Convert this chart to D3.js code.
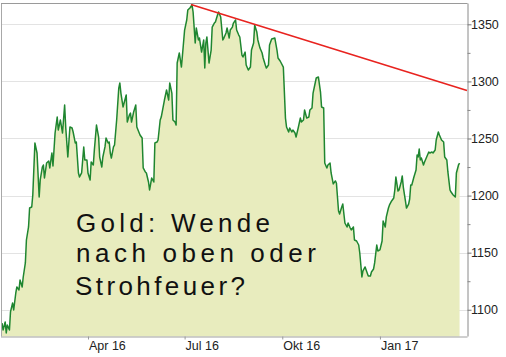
<!DOCTYPE html>
<html>
<head>
<meta charset="utf-8">
<script src="https://cdn.jsdelivr.net/npm/d3@7"></script>
<style>
  html, body { margin: 0; padding: 0; background: #fff; }
  svg { display: block; }
</style>
</head>
<body>
<svg id="chart" width="506" height="357"></svg>
<script>
// Gold price (USD/oz), Jan 2016 – Mar 2017
const dates = [
  "2016-01-11","2016-01-12","2016-01-14","2016-01-15","2016-01-16","2016-01-18","2016-01-19","2016-01-21","2016-01-22","2016-01-24","2016-01-25","2016-01-27","2016-01-28","2016-01-30","2016-01-31",
  "2016-02-02","2016-02-03","2016-02-05","2016-02-06","2016-02-08","2016-02-09","2016-02-11","2016-02-13","2016-02-14","2016-02-15","2016-02-16","2016-02-18","2016-02-19","2016-02-20","2016-02-22","2016-02-24","2016-02-25","2016-02-27","2016-02-28",
  "2016-03-01","2016-03-03","2016-03-04","2016-03-06","2016-03-08","2016-03-10","2016-03-11","2016-03-13","2016-03-15","2016-03-17","2016-03-18","2016-03-20","2016-03-21","2016-03-23","2016-03-24","2016-03-26","2016-03-28","2016-03-29","2016-03-31",
  "2016-04-01","2016-04-03","2016-04-04","2016-04-06","2016-04-07","2016-04-09","2016-04-11","2016-04-12","2016-04-14","2016-04-15","2016-04-17","2016-04-18","2016-04-20","2016-04-21","2016-04-22","2016-04-23","2016-04-25","2016-04-26","2016-04-28","2016-04-30",
  "2016-05-01","2016-05-02","2016-05-04","2016-05-05","2016-05-07","2016-05-08","2016-05-10","2016-05-11","2016-05-12","2016-05-14","2016-05-16","2016-05-17","2016-05-20","2016-05-22","2016-05-23","2016-05-25","2016-05-26","2016-05-28","2016-05-29","2016-05-31",
  "2016-06-02","2016-06-03","2016-06-05","2016-06-06","2016-06-08","2016-06-09","2016-06-12","2016-06-14","2016-06-16","2016-06-17","2016-06-19","2016-06-20","2016-06-22","2016-06-23","2016-06-24","2016-06-26","2016-06-28","2016-06-29",
  "2016-07-01","2016-07-03","2016-07-04","2016-07-06","2016-07-08","2016-07-09","2016-07-11","2016-07-12","2016-07-14","2016-07-15","2016-07-17","2016-07-19","2016-07-20","2016-07-21","2016-07-22","2016-07-24","2016-07-26","2016-07-27","2016-07-29","2016-07-30",
  "2016-08-01","2016-08-02","2016-08-04","2016-08-06","2016-08-07","2016-08-09","2016-08-10","2016-08-12","2016-08-13","2016-08-15","2016-08-16","2016-08-18","2016-08-19","2016-08-21","2016-08-22","2016-08-24","2016-08-25","2016-08-27","2016-08-28","2016-08-30",
  "2016-09-01","2016-09-02","2016-09-04","2016-09-05","2016-09-07","2016-09-08","2016-09-10","2016-09-12","2016-09-13","2016-09-15","2016-09-16","2016-09-18","2016-09-19","2016-09-21","2016-09-24","2016-09-26","2016-09-27","2016-09-29","2016-09-30",
  "2016-10-02","2016-10-04","2016-10-05","2016-10-07","2016-10-08","2016-10-10","2016-10-11","2016-10-13","2016-10-14","2016-10-16","2016-10-18","2016-10-19","2016-10-21","2016-10-22","2016-10-24","2016-10-26","2016-10-27","2016-10-29","2016-10-30",
  "2016-11-01","2016-11-02","2016-11-04","2016-11-06","2016-11-07","2016-11-09","2016-11-10","2016-11-12","2016-11-13","2016-11-15","2016-11-16","2016-11-18","2016-11-20","2016-11-21","2016-11-23","2016-11-24","2016-11-26","2016-11-27","2016-11-29",
  "2016-12-01","2016-12-02","2016-12-04","2016-12-05","2016-12-07","2016-12-08","2016-12-10","2016-12-12","2016-12-13","2016-12-15","2016-12-16","2016-12-18","2016-12-20","2016-12-21","2016-12-23","2016-12-24","2016-12-26","2016-12-27","2016-12-29","2016-12-30",
  "2017-01-01","2017-01-03","2017-01-04","2017-01-06","2017-01-07","2017-01-09","2017-01-10","2017-01-12","2017-01-14","2017-01-15","2017-01-16","2017-01-18","2017-01-19","2017-01-21","2017-01-22","2017-01-23","2017-01-25","2017-01-26","2017-01-28","2017-01-29","2017-01-30","2017-01-31",
  "2017-02-02","2017-02-04","2017-02-05","2017-02-06","2017-02-07","2017-02-08","2017-02-09","2017-02-11","2017-02-12","2017-02-14","2017-02-16","2017-02-17","2017-02-19","2017-02-20","2017-02-22","2017-02-23","2017-02-25","2017-02-26","2017-02-28",
  "2017-03-02","2017-03-03","2017-03-05","2017-03-06","2017-03-08","2017-03-09","2017-03-11","2017-03-13","2017-03-14","2017-03-16","2017-03-17"
];

const prices = [
  1088.4,1082.3,1089.3,1079.7,1086.7,1082.3,1098.1,1105.9,1099.8,1114.7,1120.0,1117.3,1126.1,1120.0,1128.7,
  1141.0,1161.1,1172.5,1189.1,1190.0,1200.5,1246.1,1237.3,1218.0,1198.8,1213.7,1225.0,1226.8,1215.4,1228.5,1230.3,1224.2,1237.3,1225.9,
  1254.8,1268.8,1257.4,1266.2,1254.8,1279.3,1260.1,1233.8,1260.1,1259.2,1255.7,1246.1,1246.9,1219.8,1216.3,1219.8,1242.6,1231.2,1231.2,
  1219.8,1213.7,1229.4,1226.8,1240.0,1261.8,1251.3,1233.8,1225.0,1233.8,1242.6,1250.4,1246.1,1246.9,1237.3,1232.9,1242.6,1244.3,1266.2,1294.2,
  1298.6,1289.8,1277.6,1281.1,1288.1,1264.4,1270.6,1272.3,1264.4,1273.2,1279.3,1260.1,1253.1,1250.4,1224.2,1220.7,1219.8,1211.9,1204.9,1215.4,
  1211.9,1246.1,1246.9,1248.7,1266.2,1268.8,1283.7,1292.5,1283.7,1298.6,1289.8,1266.2,1264.4,1261.8,1316.1,1324.9,1312.6,1323.1,
  1345.0,1353.8,1362.5,1364.3,1366.9,1360.8,1333.6,1346.8,1336.3,1338.0,1325.7,1336.3,1311.7,1333.6,1338.9,1316.1,1327.5,1347.6,1351.1,1352.0,
  1358.1,1360.8,1356.4,1336.3,1338.0,1342.4,1346.8,1338.0,1345.0,1347.6,1351.1,1353.8,1345.0,1340.6,1338.9,1323.1,1321.4,1325.7,1314.4,1310.0,
  1312.6,1327.5,1333.6,1349.4,1343.3,1336.3,1329.2,1324.9,1320.5,1314.4,1311.7,1314.4,1331.9,1337.1,1338.0,1327.5,1320.5,1317.9,1316.1,
  1312.6,1267.9,1260.1,1255.7,1259.2,1255.7,1257.4,1254.8,1251.3,1259.2,1267.9,1264.4,1266.2,1274.9,1267.9,1268.8,1274.9,1276.7,1289.8,
  1298.6,1303.0,1303.9,1290.7,1277.6,1276.7,1228.5,1224.2,1226.8,1228.5,1219.8,1210.2,1212.8,1211.0,1186.5,1183.9,1190.0,1192.6,1176.0,
  1172.5,1176.0,1171.6,1169.9,1172.5,1161.1,1160.2,1156.7,1149.7,1128.7,1134.0,1137.5,1132.2,1129.6,1129.6,1133.1,1135.7,1141.0,1156.7,1151.5,
  1152.4,1160.2,1177.8,1172.5,1181.3,1189.1,1191.8,1195.3,1197.9,1204.9,1216.3,1204.0,1204.9,1211.9,1217.2,1207.5,1195.3,1189.1,1192.6,1197.0,1209.3,1209.3,
  1216.3,1222.4,1235.6,1233.8,1240.8,1231.2,1232.9,1226.8,1229.4,1233.8,1238.2,1237.3,1238.2,1237.3,1239.9,1248.7,1255.7,1253.1,1248.7,
  1246.9,1233.8,1231.2,1220.7,1204.9,1203.1,1200.5,1198.8,1219.8,1226.8,1228.5
];

// Downtrend line from the July high
const trendDates = ["2016-07-07", "2017-03-24"];
const trendValues = [1367.3, 1292.0];

// Axis ticks
const yTicks = [1100, 1150, 1200, 1250, 1300, 1350];
const yMinorTicks = [1125, 1175, 1225, 1275, 1325];
const xTickDates = ["2016-04-01", "2016-07-01", "2016-10-01", "2017-01-01"];
const xTickLabels = ["Apr 16", "Jul 16", "Okt 16", "Jan 17"];

// Handwritten note
const noteLines = ["Gold: Wende", "nach oben oder", "Strohfeuer?"];

const parse = d3.utcParse("%Y-%m-%d");
const series = dates.map((d, i) => ({ date: parse(d), value: prices[i] }));
const trend = trendDates.map((d, i) => ({ date: parse(d), value: trendValues[i] }));

const plot = { left: 1, right: 467.5, top: 3.5, bottom: 336.5 };

const x = d3.scaleUtc()
  .domain([parse("2016-01-11"), parse("2017-03-24")])
  .range([2, 467]);
const y = d3.scaleLinear()
  .domain([1076.4, 1367.8])
  .range([336.7, 4]);

const svg = d3.select("#chart");
const axisFont = "'Liberation Sans', Arial, sans-serif";

svg.append("defs").append("clipPath").attr("id", "plotClip")
  .append("rect")
  .attr("x", plot.left).attr("y", plot.top)
  .attr("width", plot.right - plot.left).attr("height", plot.bottom - plot.top);

// horizontal gridlines
svg.append("g")
  .selectAll("line")
  .data(yTicks)
  .join("line")
  .attr("x1", plot.left).attr("x2", plot.right)
  .attr("y1", d => Math.round(y(d)) + 0.5)
  .attr("y2", d => Math.round(y(d)) + 0.5)
  .attr("stroke", "#e3e3e3")
  .attr("stroke-width", 1);

const gPlot = svg.append("g").attr("clip-path", "url(#plotClip)");

// filled area under the price
gPlot.append("path")
  .datum(series)
  .attr("fill", "#e8ecbe")
  .attr("d", d3.area()
    .x(d => x(d.date))
    .y0(y.range()[0])
    .y1(d => y(d.value)));

// price line
gPlot.append("path")
  .datum(series)
  .attr("fill", "none")
  .attr("stroke", "#1f8630")
  .attr("stroke-width", 1.5)
  .attr("stroke-linejoin", "round")
  .attr("d", d3.line()
    .x(d => x(d.date))
    .y(d => y(d.value)));

// trend line
gPlot.append("path")
  .datum(trend)
  .attr("fill", "none")
  .attr("stroke", "#e8231f")
  .attr("stroke-width", 1.6)
  .attr("d", d3.line()
    .x(d => x(d.date))
    .y(d => y(d.value)));

// frame: left and top borders
svg.append("line")
  .attr("x1", plot.left + 0.5).attr("x2", plot.left + 0.5)
  .attr("y1", plot.top).attr("y2", plot.bottom)
  .attr("stroke", "#a8a8a8");
svg.append("line")
  .attr("x1", plot.left).attr("x2", plot.right)
  .attr("y1", plot.top).attr("y2", plot.top)
  .attr("stroke", "#9a9a9a");

// right value axis
const yAxis = svg.append("g")
  .attr("transform", `translate(${plot.right},0)`)
  .call(d3.axisRight(y).tickValues(yTicks).tickSize(4).tickPadding(3).tickFormat(d3.format("d")));
yAxis.select(".domain").attr("stroke", "#8a8a8a").attr("d", `M0.5,${plot.top}V${plot.bottom}`);
yAxis.selectAll(".tick line").attr("stroke", "#777");
yAxis.selectAll(".tick text")
  .attr("x", 3.5)
  .attr("fill", "#222")
  .style("font-family", axisFont)
  .style("font-size", "12.5px");

const yMinor = svg.append("g")
  .attr("transform", `translate(${plot.right},0)`)
  .call(d3.axisRight(y).tickValues(yMinorTicks).tickSize(3).tickFormat(""));
yMinor.select(".domain").remove();
yMinor.selectAll(".tick line").attr("stroke", "#888");

// bottom time axis
const xAxis = svg.append("g")
  .attr("transform", `translate(0,${plot.bottom})`)
  .call(d3.axisBottom(x)
    .tickValues(xTickDates.map(parse))
    .tickSize(3)
    .tickFormat((d, i) => xTickLabels[i]));
xAxis.select(".domain").attr("stroke", "#a0a0a0").attr("d", `M${plot.left},0.5H${plot.right}`);
xAxis.selectAll(".tick line").attr("stroke", "#999");
xAxis.selectAll(".tick text")
  .attr("text-anchor", "start")
  .attr("x", 0.5)
  .attr("y", 5)
  .attr("fill", "#222")
  .style("font-family", axisFont)
  .style("font-size", "12.5px");

// note text
const notePos = [
  { x: 76, y: 232, w: 194 },
  { x: 76, y: 262, w: 240 },
  { x: 75, y: 295, w: 170 }
];
svg.append("g")
  .selectAll("text")
  .data(noteLines)
  .join("text")
  .attr("x", (d, i) => notePos[i].x)
  .attr("y", (d, i) => notePos[i].y)
  .attr("textLength", (d, i) => notePos[i].w)
  .attr("lengthAdjust", "spacing")
  .attr("fill", "#111")
  .style("font-family", "'Liberation Sans', Arial, sans-serif")
  .style("font-size", "26px")
  .text(d => d);
</script>
</body>
</html>
